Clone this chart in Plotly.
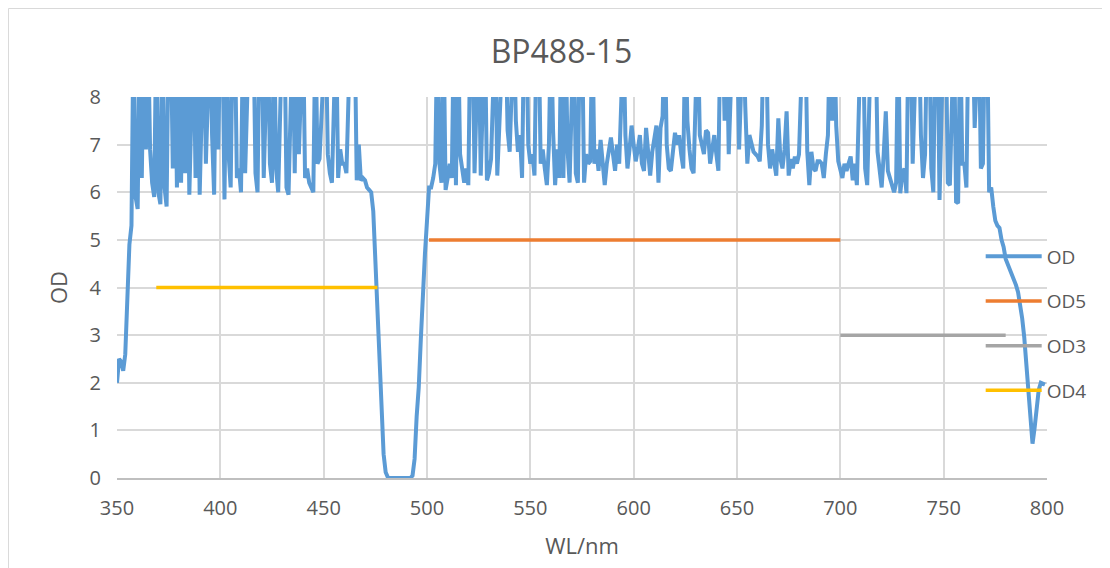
import plotly.graph_objects as go

# ---- data ----
wl_start = 350
od_values = [
    2.0, 2.5, 2.45, 2.25, 2.6, 4.0, 4.9, 5.3, 9.5, 5.9,
    5.65, 9.5, 6.3, 9.5, 6.9, 9.5, 6.9, 6.2, 5.9, 9.5,
    6.0, 5.75, 9.5, 6.1, 5.7, 9.5, 9.5, 6.5, 9.5, 6.1,
    9.5, 6.2, 9.5, 6.4, 9.5, 5.95, 9.5, 9.5, 6.3, 9.5,
    5.95, 9.5, 9.5, 6.6, 9.5, 9.5, 7.2, 5.95, 9.5, 6.9,
    9.5, 9.5, 5.85, 9.5, 6.8, 6.1, 9.5, 9.5, 6.3, 6.5,
    6.0, 9.5, 6.4, 9.5, 9.5, 9.5, 9.5, 6.4, 6.0, 9.5,
    9.5, 6.3, 9.5, 9.5, 6.6, 6.2, 9.5, 6.5, 6.0, 9.5,
    9.5, 9.5, 6.1, 5.95, 9.5, 9.5, 6.4, 9.5, 6.8, 9.5,
    9.5, 6.3, 6.5, 6.2, 6.1, 6.0, 9.5, 6.6, 6.7, 7.6,
    9.5, 9.5, 6.8, 6.4, 6.2, 9.5, 9.5, 6.3, 6.9, 6.6,
    6.6, 6.4, 9.5, 9.5, 9.5, 9.5, 6.25, 7.0, 6.25, 6.3,
    6.25, 6.1, 6.05, 6.0, 5.6, 4.6, 3.6, 2.3, 1.2, 0.5,
    0.12, 0.02, 0, 0, 0, 0, 0, 0, 0, 0,
    0, 0, 0, 0.05, 0.4, 1.3, 1.9, 2.9, 3.9, 4.7,
    5.4, 6.1, 6.1, 6.3, 6.6, 9.5, 6.6, 6.2, 9.5, 6.05,
    6.3, 6.6, 6.3, 9.5, 6.15, 9.5, 6.8, 6.45, 6.2, 6.5,
    6.15, 9.5, 9.5, 6.4, 9.5, 9.5, 6.35, 7.5, 9.5, 6.25,
    6.4, 6.7, 9.5, 9.5, 6.35, 7.7, 9.5, 9.5, 9.5, 7.3,
    6.85, 9.5, 9.5, 7.5, 6.85, 7.2, 6.3, 9.5, 9.5, 7.0,
    6.6, 6.8, 6.35, 9.5, 9.5, 6.6, 6.9, 6.5, 6.15, 7.0,
    9.5, 7.3, 6.15, 6.9, 6.3, 9.5, 6.3, 9.5, 6.9, 6.2,
    7.5, 9.5, 6.4, 6.2, 9.5, 9.5, 6.2, 6.8, 6.6, 6.65,
    9.5, 6.6, 6.9, 6.45, 7.1, 6.7, 6.15, 6.6, 6.9, 7.15,
    6.8, 6.45, 7.0, 6.6, 7.9, 9.5, 7.2, 6.5, 6.9, 7.4,
    7.0, 6.65, 6.9, 7.2, 6.6, 6.45, 7.35, 6.8, 6.35, 6.85,
    7.1, 7.4, 6.2, 7.35, 7.6, 9.5, 7.0, 6.5, 6.45, 6.9,
    7.25, 7.0, 7.2, 6.8, 6.5, 9.5, 7.5, 6.9, 6.5, 6.4,
    9.5, 9.5, 7.2, 7.0, 6.8, 7.3, 7.25, 6.6, 6.9, 7.2,
    6.8, 6.45, 9.5, 9.5, 7.5, 9.5, 6.8, 9.5, 9.5, 9.5,
    9.5, 6.9, 9.5, 9.5, 7.8, 6.6, 7.2, 7.0, 6.85, 6.8,
    6.75, 6.65, 7.4, 9.5, 9.5, 7.0, 6.5, 6.9, 6.6, 6.35,
    7.55, 6.7, 6.5, 6.9, 7.7, 6.35, 6.7, 6.5, 6.75, 6.6,
    6.8, 9.5, 9.5, 9.5, 6.85, 6.15, 6.85, 6.5, 6.45, 6.65,
    6.65, 6.6, 6.3, 6.8, 7.2, 9.5, 7.5, 9.5, 7.4, 6.65,
    6.5, 6.3, 6.6, 6.45, 6.6, 6.75, 6.25, 6.6, 6.15, 9.5,
    9.5, 9.5, 6.5, 6.15, 9.5, 9.5, 9.5, 9.5, 6.85, 6.5,
    6.1, 6.8, 7.7, 6.45, 6.3, 6.1, 6.0, 6.2, 9.5, 5.98,
    6.4, 6.5, 5.98, 9.5, 9.5, 6.6, 9.5, 9.5, 9.5, 7.2,
    6.3, 6.8, 9.5, 9.5, 6.5, 6.0, 9.5, 9.5, 5.84, 9.5,
    9.5, 9.5, 6.2, 6.15, 9.5, 9.5, 5.8, 5.77, 9.5, 6.6,
    6.6, 6.1, 9.5, 9.5, 9.5, 7.35, 9.5, 9.5, 6.5, 6.6,
    9.5, 9.5, 6.0, 6.1, 5.7, 5.4, 5.3, 5.25, 5.0, 4.85,
    4.6, 4.5, 4.4, 4.3, 4.2, 4.05, 3.9, 3.65, 3.35, 2.95,
    2.45, 1.95, 1.25, 0.72, 1.05, 1.55, 1.85, 2.0, 1.98, 1.96,
]
wl_values = [wl_start + i for i in range(len(od_values))]

od5_x = [501, 700]
od5_y = [5, 5]
od3_x = [700, 780]
od3_y = [3, 3]
od4_x = [369, 476]
od4_y = [4, 4]

title_text = "BP488-15"
x_title = "WL/nm"
y_title = "OD"

FONT = "Open Sans"
TXT = "#595959"
GRID = "#D9D9D9"

W, H = 1102, 560

fig = go.Figure()
fig.add_trace(go.Scatter(x=wl_values, y=od_values, mode="lines", name="OD",
                         line=dict(color="#5B9BD5", width=4), legendgroup="a"))
fig.add_trace(go.Scatter(x=od5_x, y=od5_y, mode="lines", name="OD5",
                         line=dict(color="#ED7D31", width=3.5), legendgroup="b"))
fig.add_trace(go.Scatter(x=od3_x, y=od3_y, mode="lines", name="OD3",
                         line=dict(color="#A5A5A5", width=3.5), legendgroup="c"))
fig.add_trace(go.Scatter(x=od4_x, y=od4_y, mode="lines", name="OD4",
                         line=dict(color="#FFC000", width=3.5), legendgroup="d"))

fig.update_layout(
    width=W, height=H,
    margin=dict(l=109, r=63, t=89, b=90, autoexpand=False),
    paper_bgcolor="white", plot_bgcolor="white",
    font=dict(family=FONT, color=TXT),
    title=dict(text=title_text, x=553.5 / W, xref="container", xanchor="center",
               y=1 - 44 / H, yref="container", yanchor="middle",
               font=dict(family=FONT, size=32, color=TXT)),
    xaxis=dict(range=[350, 800], dtick=50, tick0=350,
               showgrid=True, gridcolor=GRID, gridwidth=1.5,
               showline=True, linecolor="#BFBFBF", linewidth=1.5,
               zeroline=False, ticks="", ticklabelstandoff=11,
               tickfont=dict(family=FONT, size=20, color=TXT),
               title=dict(text=x_title, font=dict(family=FONT, size=22, color=TXT), standoff=19)),
    yaxis=dict(range=[0, 8], dtick=1, tick0=0,
               showgrid=True, gridcolor=GRID, gridwidth=1.5,
               showline=False, zeroline=False, ticks="", ticklabelstandoff=15,
               tickfont=dict(family=FONT, size=20, color=TXT),
               title=dict(text=y_title, font=dict(family=FONT, size=22, color=TXT), standoff=15)),
    legend=dict(x=0.9287, xanchor="left", y=0.6315, yanchor="top",
                bgcolor="rgba(0,0,0,0)", tracegroupgap=17, itemwidth=56,
                font=dict(family=FONT, size=19, color=TXT)),
    shapes=[dict(type="rect", xref="paper", yref="paper",
                 x0=-0.1167, x1=1.2, y0=-0.5, y1=1.2323,
                 line=dict(color=GRID, width=1), layer="below")],
)

fig.write_html("out.html")
